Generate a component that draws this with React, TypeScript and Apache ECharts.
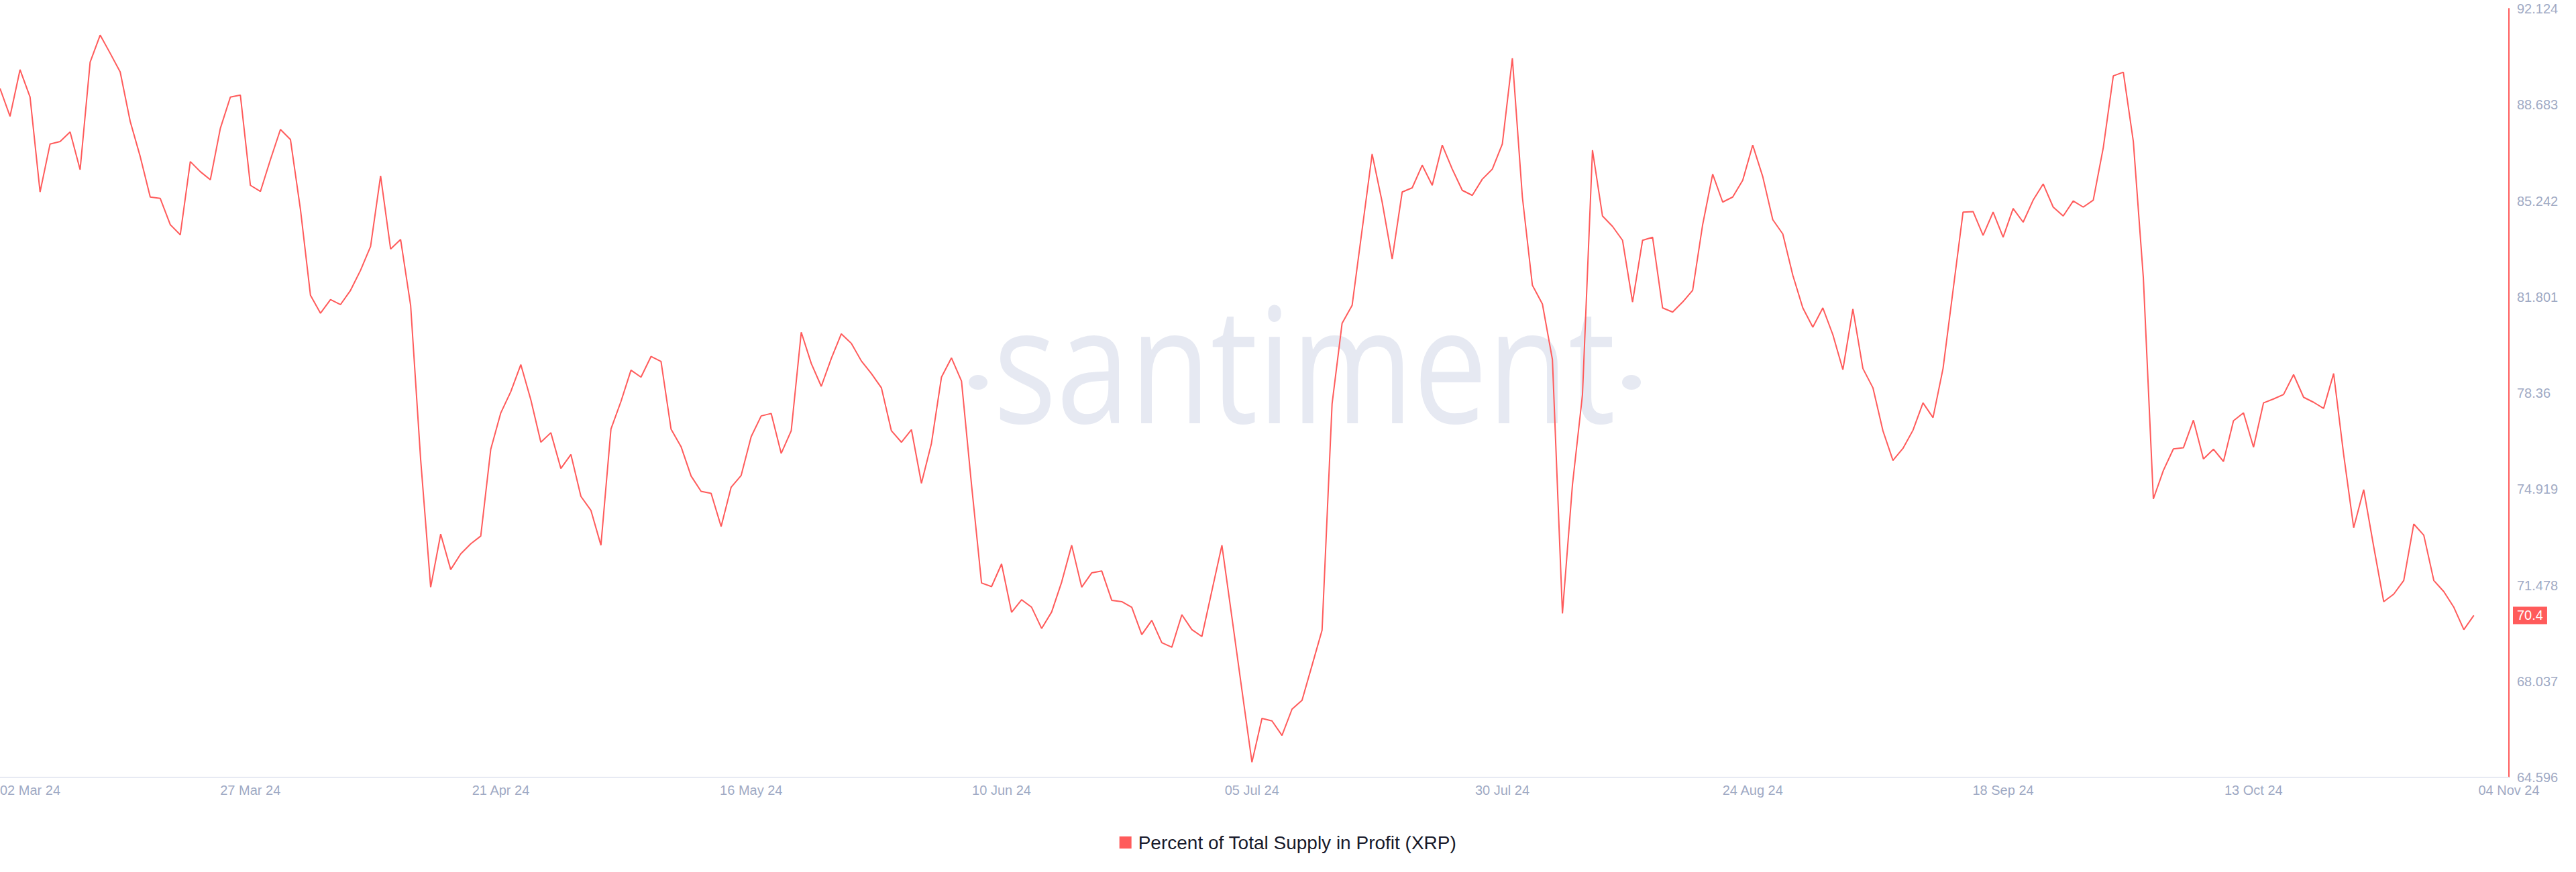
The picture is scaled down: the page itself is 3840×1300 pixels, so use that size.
import React, { useEffect, useRef } from "react";
import * as echarts from "echarts";

// ---- data ----
const START_DATE_UTC = Date.UTC(2024, 2, 2); // 02 Mar 2024, one value per day
const MONTHS = ["Jan", "Feb", "Mar", "Apr", "May", "Jun", "Jul", "Aug", "Sep", "Oct", "Nov", "Dec"];
const SERIES_NAME = "Percent of Total Supply in Profit (XRP)";

const supplyInProfit: number[] = [
  89.27, 88.27, 89.94, 88.96, 85.56, 87.28, 87.37, 87.71, 86.36, 90.21,
  91.18, 90.53, 89.86, 88.09, 86.83, 85.38, 85.33, 84.39, 84.03, 86.65,
  86.29, 86.0, 87.84, 88.96, 89.03, 85.8, 85.58, 86.72, 87.8, 87.44,
  84.93, 81.86, 81.22, 81.71, 81.53, 82.04, 82.76, 83.61, 86.14, 83.52,
  83.86, 81.5, 75.98, 71.41, 73.31, 72.04, 72.6, 72.96, 73.24, 76.35,
  77.65, 78.41, 79.38, 78.12, 76.6, 76.94, 75.66, 76.16, 74.66, 74.16,
  72.91, 77.07, 78.06, 79.18, 78.93, 79.67, 79.49, 77.07, 76.44, 75.39,
  74.84, 74.77, 73.58, 74.99, 75.41, 76.8, 77.54, 77.63, 76.2, 77.01,
  80.54, 79.42, 78.6, 79.6, 80.48, 80.14, 79.51, 79.06, 78.55, 77.01,
  76.6, 77.05, 75.13, 76.56, 78.93, 79.62, 78.79, 75.08, 71.56, 71.43,
  72.24, 70.51, 70.96, 70.69, 69.93, 70.52, 71.59, 72.91, 71.41, 71.92,
  71.99, 70.94, 70.89, 70.69, 69.71, 70.22, 69.42, 69.26, 70.42, 69.89,
  69.64, 71.28, 72.91, 70.33, 67.72, 65.14, 66.71, 66.62, 66.1, 67.04,
  67.36, 68.61, 69.87, 77.97, 80.86, 81.5, 84.21, 86.92, 85.2, 83.16,
  85.56, 85.71, 86.52, 85.8, 87.24, 86.38, 85.62, 85.44, 86.02, 86.38,
  87.28, 90.35, 85.38, 82.22, 81.55, 79.56, 70.47, 75.08, 78.3, 87.06,
  84.7, 84.33, 83.83, 81.62, 83.83, 83.94, 81.41, 81.26, 81.62, 82.04,
  84.39, 86.2, 85.2, 85.38, 85.98, 87.24, 86.11, 84.57, 84.06, 82.58,
  81.41, 80.72, 81.41, 80.45, 79.2, 81.37, 79.24, 78.55, 77.01, 75.95,
  76.38, 77.03, 78.01, 77.48, 79.24, 82.04, 84.84, 84.86, 84.01, 84.84,
  83.94, 84.97, 84.48, 85.27, 85.85, 85.02, 84.7, 85.24, 85.02, 85.27,
  87.15, 89.72, 89.85, 87.37, 82.49, 74.57, 75.59, 76.36, 76.4, 77.39,
  76.0, 76.35, 75.91, 77.37, 77.65, 76.42, 78.01, 78.15, 78.31, 79.02,
  78.21, 78.03, 77.81, 79.06, 76.16, 73.54, 74.9, 72.86, 70.89, 71.16,
  71.65, 73.67, 73.27, 71.65, 71.25, 70.69, 69.89, 70.4,
];

// axis ticks
const X_TICK_DAYS = 25;
const X_AXIS_MAX_DAY = 250.5;
const Y_MIN = 64.596;
const Y_MAX = 92.124;
const Y_STEP = 3.441;

// ---- styles ----
const LINE_COLOR = "#ff5b5b";
const LABEL_COLOR = "#9faac4";
const FONT = "'Liberation Sans', Arial, sans-serif";

function formatDay(i: number): string {
  const d = new Date(START_DATE_UTC + Math.round(i) * 86400000);
  const dd = String(d.getUTCDate()).padStart(2, "0");
  return `${dd} ${MONTHS[d.getUTCMonth()]} ${String(d.getUTCFullYear()).slice(2)}`;
}

export default function App() {
  const ref = useRef<HTMLDivElement | null>(null);

  useEffect(() => {
    if (!ref.current) return;
    const chart = echarts.init(ref.current, null, { renderer: "svg" });
    const lastIndex = supplyInProfit.length - 1;
    const lastValue = supplyInProfit[lastIndex];
    const seriesData = supplyInProfit.map((v, i) => [i, v]);

    chart.setOption({
      animation: false,
      backgroundColor: "#ffffff",
      textStyle: { fontFamily: FONT },
      grid: {
        left: 0,
        right: 100,
        top: 13,
        bottom: 141,
        containLabel: false,
        outerBoundsMode: "none",
      },
      graphic: [
        {
          type: "text",
          x: 1481,
          y: 538,
          scaleX: 0.82,
          z: 0,
          silent: true,
          style: {
            text: "santiment",
            fontSize: 240,
            fontFamily: "'Open Sans', 'Noto Sans', sans-serif",
            fill: "#e6e9f2",
            verticalAlign: "middle",
            align: "left",
          },
        },
        {
          type: "ellipse",
          z: 0,
          silent: true,
          shape: { cx: 1458, cy: 570, rx: 14, ry: 11 },
          style: { fill: "#e6e9f2" },
        },
        {
          type: "ellipse",
          z: 0,
          silent: true,
          shape: { cx: 2432, cy: 570, rx: 14, ry: 11 },
          style: { fill: "#e6e9f2" },
        },
      ],
      legend: {
        data: [SERIES_NAME],
        top: 1237,
        left: "center",
        icon: "rect",
        itemWidth: 18,
        itemHeight: 18,
        textStyle: {
          color: "#181a2b",
          fontSize: 28,
          fontFamily: FONT,
          padding: [0, 0, 0, 5],
        },
      },
      xAxis: {
        type: "value",
        min: 0,
        max: X_AXIS_MAX_DAY,
        interval: X_TICK_DAYS,
        splitLine: { show: false },
        axisTick: { show: false },
        axisLine: { show: true, onZero: false, lineStyle: { color: "#e7eaf3", width: 2 } },
        axisLabel: {
          color: LABEL_COLOR,
          fontSize: 20,
          margin: 9,
          showMinLabel: true,
          showMaxLabel: true,
          alignMinLabel: "left",
          formatter: (v: number) => {
            if (Math.abs(v - X_AXIS_MAX_DAY) < 1e-6) return formatDay(lastIndex);
            if (v % X_TICK_DAYS === 0 && v <= lastIndex) return formatDay(v);
            return "";
          },
        },
      },
      yAxis: {
        type: "value",
        position: "right",
        min: Y_MIN,
        max: Y_MAX,
        interval: Y_STEP,
        splitLine: { show: false },
        axisTick: { show: false },
        axisLine: { show: true, onZero: false, lineStyle: { color: LINE_COLOR, width: 2 } },
        axisLabel: {
          color: LABEL_COLOR,
          fontSize: 20,
          margin: 12,
          showMinLabel: true,
          showMaxLabel: true,
          formatter: (v: number) => String(parseFloat(v.toFixed(3))),
        },
      },
      series: [
        {
          name: SERIES_NAME,
          type: "line",
          data: seriesData,
          showSymbol: false,
          symbol: "none",
          z: 3,
          lineStyle: { color: LINE_COLOR, width: 2 },
          itemStyle: { color: LINE_COLOR },
          emphasis: { disabled: true },
          markLine: {
            silent: true,
            symbol: ["none", "none"],
            lineStyle: { color: "rgba(255,255,255,0)", width: 1, type: "solid" },
            emphasis: { disabled: true },
            label: {
              show: true,
              position: "end",
              distance: 6,
              color: "#ffffff",
              backgroundColor: LINE_COLOR,
              padding: [3, 6, 3, 6],
              fontSize: 20,
              fontFamily: FONT,
              formatter: (p: any) => String(p.value),
            },
            data: [{ yAxis: lastValue }],
          },
        },
      ],
    });

    return () => {
      chart.dispose();
    };
  }, []);

  return (
    <div
      ref={ref}
      style={{ position: "fixed", left: 0, top: 0, width: 3840, height: 1300, background: "#fff" }}
    />
  );
}
